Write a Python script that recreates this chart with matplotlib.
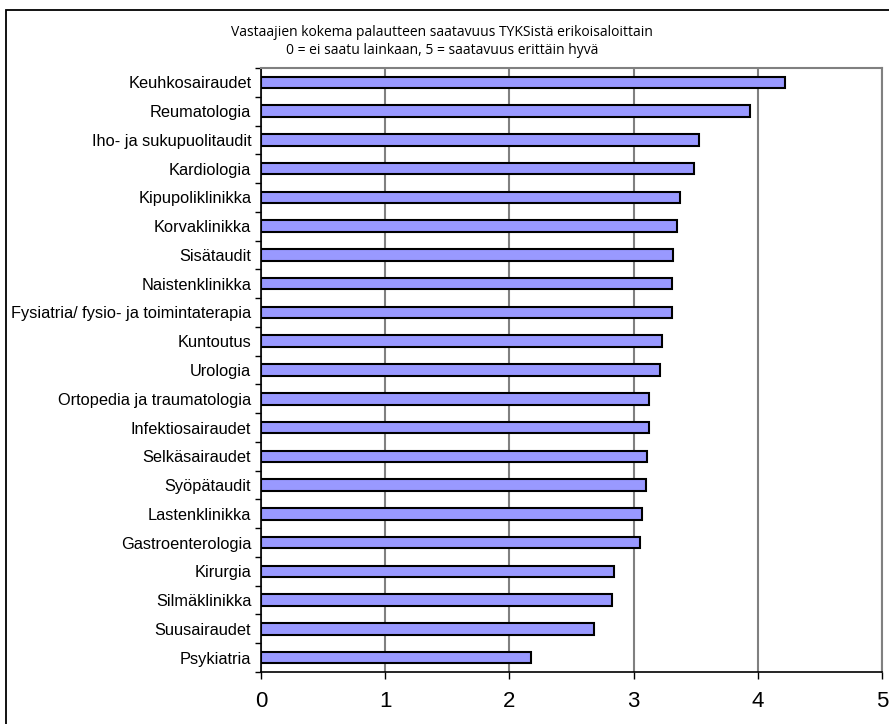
import matplotlib
matplotlib.use("Agg")
import matplotlib.pyplot as plt
from matplotlib.patches import Rectangle
import numpy as np

categories = [
    "Keuhkosairaudet", "Reumatologia", "Iho- ja sukupuolitaudit", "Kardiologia",
    "Kipupoliklinikka", "Korvaklinikka", "Sisätaudit", "Naistenklinikka",
    "Fysiatria/ fysio- ja toimintaterapia", "Kuntoutus", "Urologia",
    "Ortopedia ja traumatologia", "Infektiosairaudet", "Selkäsairaudet",
    "Syöpätaudit", "Lastenklinikka", "Gastroenterologia", "Kirurgia",
    "Silmäklinikka", "Suusairaudet", "Psykiatria",
]
values = [4.22, 3.94, 3.53, 3.49, 3.37, 3.35, 3.32, 3.31, 3.31, 3.23, 3.21,
          3.12, 3.12, 3.11, 3.10, 3.07, 3.05, 2.84, 2.83, 2.68, 2.17]
xticks = [0, 1, 2, 3, 4, 5]
title_lines = ["Vastaajien kokema palautteen saatavuus TYKSistä erikoisaloittain",
               "0 = ei saatu lainkaan, 5 = saatavuus erittäin hyvä"]

W, H = 889, 724
fig = plt.figure(figsize=(W / 100, H / 100), dpi=100)
ax = fig.add_axes([261 / W, 1 - 672 / H, (882 - 261) / W, (672 - 68) / H])

y = np.arange(len(categories))
ax.barh(y, values, height=0.40, color="#9999FF", edgecolor="black", linewidth=1.5, zorder=3)

ax.set_xlim(0, 5)
ax.set_ylim(len(categories) - 0.5, -0.5)
ax.set_xticks(xticks)
ax.set_xticklabels([str(t) for t in xticks], fontsize=16, family="Liberation Sans")
ax.set_yticks(y)
ax.set_yticklabels(categories, fontsize=11.8, family="Liberation Sans")
ax.set_yticks(np.arange(-0.5, len(categories), 1), minor=True)
ax.tick_params(axis="y", which="major", length=0, pad=7)
ax.tick_params(axis="y", which="minor", length=4, width=1, direction="out")
ax.tick_params(axis="x", which="major", length=5, width=1, direction="out", pad=9)

ax.grid(axis="x", color="#808080", linewidth=1.5, zorder=0)
for s in ["top", "right"]:
    ax.spines[s].set_color("#808080")
    ax.spines[s].set_linewidth(1.5)
for s in ["left", "bottom"]:
    ax.spines[s].set_color("black")
    ax.spines[s].set_linewidth(1.2)

fig.text(442 / W, 1 - 33 / H, title_lines[0], ha="center", va="center", fontsize=10, family="Open Sans")
fig.text(442 / W, 1 - 51 / H, title_lines[1], ha="center", va="center", fontsize=10, family="Open Sans")

fig.patches.append(Rectangle((6 / W, -0.05), 1.2, 1 - 10 / H + 0.05, transform=fig.transFigure,
                             fill=False, edgecolor="black", linewidth=1.3))

fig.savefig("out.png", dpi=100)
